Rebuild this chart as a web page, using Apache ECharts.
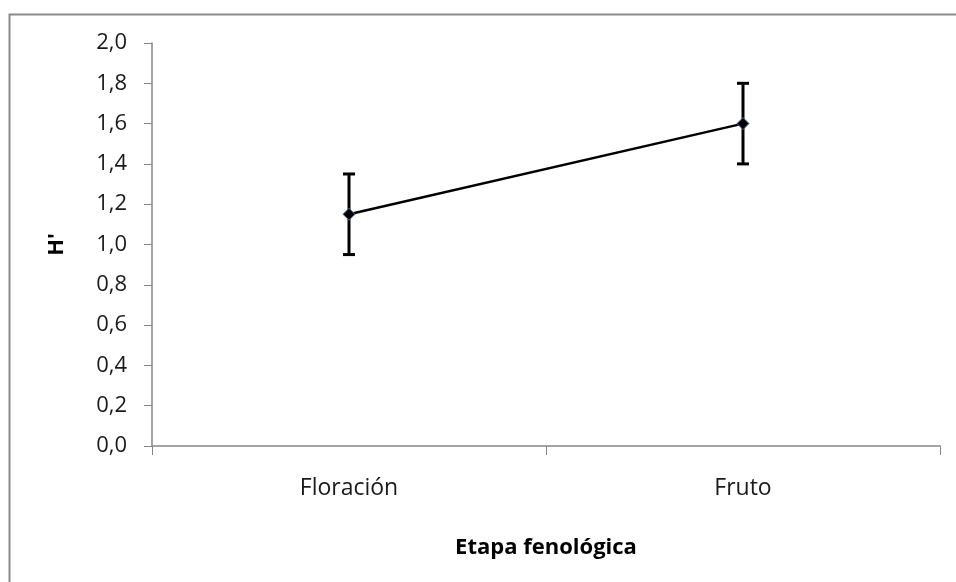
<!DOCTYPE html>
<html>
<head>
<meta charset="utf-8">
<script src="https://cdn.jsdelivr.net/npm/echarts@6/dist/echarts.min.js"></script>
<style>
  html, body { margin: 0; padding: 0; background: #ffffff; }
  #chart { width: 956px; height: 582px; }
</style>
</head>
<body>
<div id="chart"></div>
<script>
// Phenological stages and Shannon diversity (H') with its error range
const categories = ['Floración', 'Fruto'];
const meanH = [1.15, 1.60];
const errH = [0.20, 0.20];
const yTicks = [0, 0.2, 0.4, 0.6, 0.8, 1.0, 1.2, 1.4, 1.6, 1.8, 2.0];

const FONT = '"Open Sans", sans-serif';
const AXIS_GREY = '#868686';

const errorData = categories.map((c, i) => [i, meanH[i] - errH[i], meanH[i] + errH[i]]);

const chart = echarts.init(document.getElementById('chart'), null, { renderer: 'canvas' });

chart.setOption({
  backgroundColor: '#ffffff',
  animation: false,
  graphic: [{
    type: 'rect',
    left: 7, top: 12,
    shape: { x: 0, y: 0, width: 1200, height: 900 },
    style: { fill: 'none', stroke: '#8a8a8a', lineWidth: 2 },
    silent: true,
    z: 0
  }],
  grid: { left: 152, right: 16, top: 43, bottom: 136 },
  xAxis: {
    type: 'category',
    data: categories,
    boundaryGap: true,
    name: 'Etapa fenológica',
    nameLocation: 'middle',
    nameGap: 91,
    nameTextStyle: { fontFamily: FONT, fontSize: 22, fontWeight: 'bold', color: '#000000' },
    axisLine: { lineStyle: { color: AXIS_GREY, width: 1.5 } },
    axisTick: { show: true, length: 9, alignWithLabel: false, lineStyle: { color: AXIS_GREY, width: 1 } },
    axisLabel: { fontFamily: FONT, fontSize: 23, color: '#1a1a1a', margin: 31 },
    splitLine: { show: false }
  },
  yAxis: {
    type: 'value',
    min: yTicks[0], max: yTicks[yTicks.length - 1], interval: 0.2,
    name: "H'",
    nameLocation: 'middle',
    nameGap: 84,
    nameRotate: 90,
    nameTextStyle: { fontFamily: FONT, fontSize: 22, fontWeight: 'bold', color: '#000000' },
    axisLine: { show: true, lineStyle: { color: AXIS_GREY, width: 1.5 } },
    axisTick: { show: true, length: 8, lineStyle: { color: AXIS_GREY, width: 1 } },
    axisLabel: {
      fontFamily: FONT, fontSize: 22, color: '#1a1a1a', margin: 25,
      formatter: v => v.toFixed(1).replace('.', ',')
    },
    splitLine: { show: false }
  },
  series: [
    {
      type: 'custom',
      name: 'error',
      data: errorData,
      encode: { x: 0, y: [1, 2] },
      z: 2,
      renderItem: (params, api) => {
        const x = api.value(0);
        const lo = api.coord([x, api.value(1)]);
        const hi = api.coord([x, api.value(2)]);
        const cap = 6;
        const style = { stroke: '#000000', lineWidth: 3 };
        return {
          type: 'group',
          children: [
            { type: 'line', shape: { x1: lo[0], y1: lo[1], x2: hi[0], y2: hi[1] }, style },
            { type: 'line', shape: { x1: hi[0] - cap, y1: hi[1], x2: hi[0] + cap, y2: hi[1] }, style },
            { type: 'line', shape: { x1: lo[0] - cap, y1: lo[1], x2: lo[0] + cap, y2: lo[1] }, style }
          ]
        };
      }
    },
    {
      type: 'line',
      name: "H'",
      data: meanH,
      z: 3,
      symbol: 'diamond',
      symbolSize: 12,
      lineStyle: { color: '#000000', width: 2.5 },
      itemStyle: { color: '#000000', borderColor: '#4a6f9f', borderWidth: 1 }
    }
  ]
});
</script>
</body>
</html>
